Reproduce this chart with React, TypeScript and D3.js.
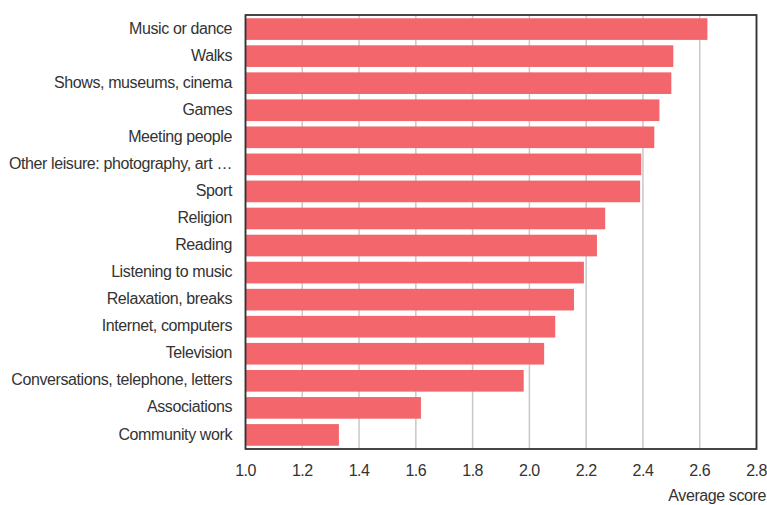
import React from "react";
import * as d3 from "d3";

const categories = [
  "Music or dance",
  "Walks",
  "Shows, museums, cinema",
  "Games",
  "Meeting people",
  "Other leisure: photography, art …",
  "Sport",
  "Religion",
  "Reading",
  "Listening to music",
  "Relaxation, breaks",
  "Internet, computers",
  "Television",
  "Conversations, telephone, letters",
  "Associations",
  "Community work",
];
const values = [2.627, 2.507, 2.5, 2.458, 2.44, 2.394, 2.39, 2.267, 2.238, 2.192, 2.157, 2.091, 2.052, 1.98, 1.618, 1.329];
const ticks = [1.0, 1.2, 1.4, 1.6, 1.8, 2.0, 2.2, 2.4, 2.6, 2.8];
const axisTitle = "Average score";

const W = 767;
const H = 505;
const left = 245.5;
const right = 756.5;
const top = 15;
const bottom = 449;
const FONT = "'Liberation Sans', Arial, sans-serif";

export default function App() {
  const x = d3.scaleLinear().domain([1.0, 2.8]).range([left, right]);
  const y = d3.scaleBand<string>().domain(categories).range([top, bottom]).paddingInner(0.2).paddingOuter(0.12);
  return (
    <svg width={W} height={H} style={{ position: "absolute", left: 0, top: 0 }} fontFamily={FONT}>
      {ticks.map((t) => (
        <line key={"g" + t} x1={x(t)} x2={x(t)} y1={top} y2={bottom} stroke="#c8c8c8" strokeWidth={1.5} />
      ))}
      {categories.map((c, i) => (
        <rect key={c} x={x(1.0)} y={y(c)} width={x(values[i]) - x(1.0)} height={y.bandwidth()} fill="#f2666c" />
      ))}
      <rect x={left} y={top} width={right - left} height={bottom - top} fill="none" stroke="#333" strokeWidth={1.8} />
      {categories.map((c) => (
        <text key={"l" + c} x={232} y={(y(c) as number) + y.bandwidth() / 2 - 1} dy="0.35em" textAnchor="end" fontSize={16} fill="#333" letterSpacing={-0.4}>
          {c}
        </text>
      ))}
      {ticks.map((t) => (
        <text key={"t" + t} x={x(t)} y={476} textAnchor="middle" fontSize={16} fill="#333" letterSpacing={-0.5}>
          {d3.format(".1f")(t)}
        </text>
      ))}
      <text x={766} y={501} textAnchor="end" fontSize={16} fill="#333" letterSpacing={-0.4}>
        {axisTitle}
      </text>
    </svg>
  );
}
